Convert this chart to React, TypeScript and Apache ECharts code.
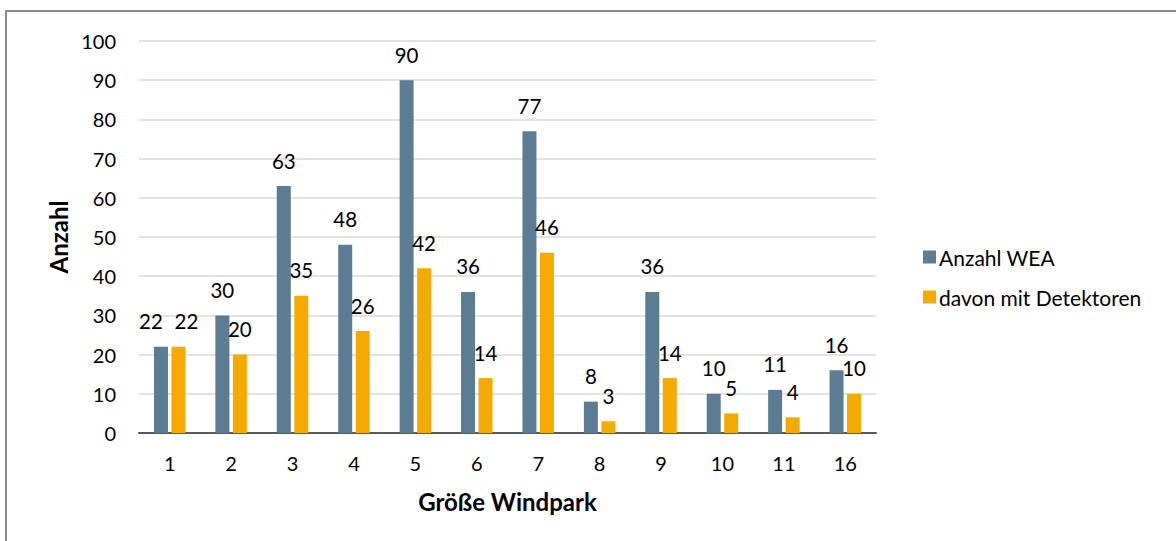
import React, { useEffect, useRef } from "react";
import * as echarts from "echarts";

const categories = ["1", "2", "3", "4", "5", "6", "7", "8", "9", "10", "11", "16"];
const anzahlWEA = [22, 30, 63, 48, 90, 36, 77, 8, 36, 10, 11, 16];
const mitDetektoren = [22, 20, 35, 26, 42, 14, 46, 3, 14, 5, 4, 10];
const seriesNames = ["Anzahl WEA", "davon mit Detektoren"];
const yTicks = { min: 0, max: 100, interval: 10 };

const FONT = "Lato, 'Open Sans', sans-serif";
const BLUE = "#5b7c93";
const ORANGE = "#f4aa00";

export default function App() {
  const ref = useRef<HTMLDivElement>(null);
  useEffect(() => {
    if (!ref.current) return;
    const chart = echarts.init(ref.current, null, { renderer: "svg" });
    const labelBase = {
      show: true,
      position: "top",
      distance: 15,
      color: "#000",
      fontSize: 20.5,
      fontFamily: FONT,
    };
    chart.setOption({
      animation: false,
      backgroundColor: "#fff",
      textStyle: { fontFamily: FONT },
      graphic: [
        {
          type: "rect",
          shape: { x: 6, y: 11, width: 1200, height: 600 },
          style: { fill: "none", stroke: "#8a8a8a", lineWidth: 2 },
          silent: true,
        },
      ],
      grid: { left: 139, right: 300, top: 41, bottom: 108, containLabel: false },
      legend: {
        orient: "vertical",
        left: 918,
        top: 241,
        itemWidth: 13,
        itemHeight: 13,
        itemGap: 18,
        icon: "rect",
        data: seriesNames,
        textStyle: { fontSize: 21, fontFamily: FONT, color: "#000", lineHeight: 22, padding: [0, 0, 0, -2] },
      },
      xAxis: {
        type: "category",
        data: categories,
        name: "Größe Windpark",
        nameLocation: "middle",
        nameGap: 56,
        nameTextStyle: { fontSize: 24, fontWeight: "bold", color: "#000", fontFamily: FONT },
        axisLine: { lineStyle: { color: "#595959", width: 2 } },
        axisTick: { show: false },
        axisLabel: { fontSize: 20, color: "#000", margin: 20, fontFamily: FONT },
      },
      yAxis: {
        type: "value",
        min: yTicks.min,
        max: yTicks.max,
        interval: yTicks.interval,
        name: "Anzahl",
        nameLocation: "middle",
        nameGap: 65,
        nameRotate: 90,
        nameTextStyle: { fontSize: 24, fontWeight: "bold", color: "#000", fontFamily: FONT },
        axisLine: { show: false },
        axisTick: { show: false },
        axisLabel: { fontSize: 20, color: "#000", margin: 23, fontFamily: FONT },
        splitLine: { lineStyle: { color: "#d9d9d9", width: 1.5 } },
      },
      series: [
        {
          name: seriesNames[0],
          type: "bar",
          barWidth: 14,
          barGap: "25%",
          itemStyle: { color: BLUE },
          label: labelBase,
          data: anzahlWEA.map((v, i) =>
            i === 0 ? { value: v, label: { offset: [-10, 0] } } : v
          ),
        },
        {
          name: seriesNames[1],
          type: "bar",
          barWidth: 14,
          barGap: "25%",
          itemStyle: { color: ORANGE },
          label: labelBase,
          data: mitDetektoren.map((v, i) =>
            i === 0 ? { value: v, label: { offset: [8, 0] } } : v
          ),
        },
      ],
    });
    return () => chart.dispose();
  }, []);
  return (
    <div
      ref={ref}
      style={{ position: "absolute", left: 0, top: 0, width: 1176, height: 541 }}
    />
  );
}
